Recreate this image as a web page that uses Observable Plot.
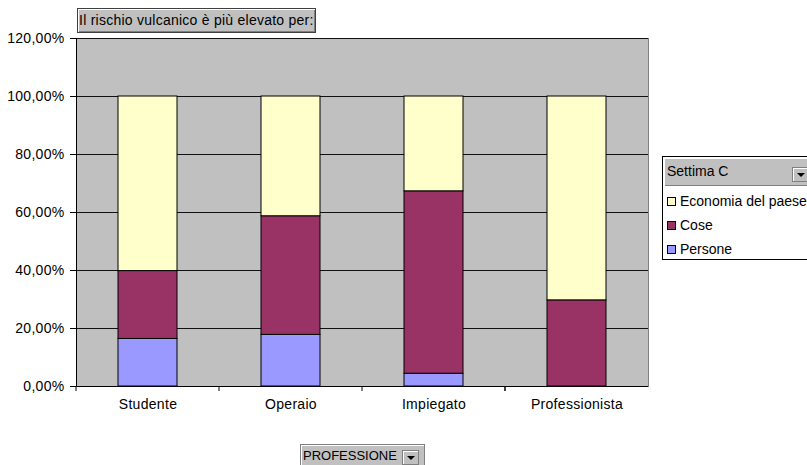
<!DOCTYPE html>
<html>
<head>
<meta charset="utf-8">
<script src="https://cdn.jsdelivr.net/npm/d3@7"></script>
<script src="https://cdn.jsdelivr.net/npm/@observablehq/plot@0.6"></script>
<style>
  html, body { margin: 0; padding: 0; background: #fff; }
  #wrap { position: relative; width: 807px; height: 465px; overflow: hidden; font-family: "Liberation Sans", Arial, sans-serif; }
  #wrap svg { position: absolute; left: 0; top: 0; }
  .title { position: absolute; left: 77px; top: 8px; width: 236px; height: 23px; background: #c0c0c0;
    border: 1px solid #404040; box-shadow: inset 1px 1px #fff, inset -1px -1px #808080; font-size: 14px; letter-spacing: 0.25px; line-height: 23px; padding-left: 1px; box-sizing: content-box; white-space: nowrap; color: #000; }
  .legend { position: absolute; left: 662px; top: 156px; width: 160px; height: 102px; border: 1px solid #000; background: #fff; }
  .legend .head { position: absolute; left: 2px; top: 2px; right: 0; height: 26px; background: #c0c0c0; border-bottom: 1px solid #808080; font-size: 14px; line-height: 24px; padding-left: 2px; }
  .btn { position: absolute; width: 15px; height: 13px; background: #c0c0c0; border: 1px solid #808080; box-shadow: inset 1px 1px #fff; }
  .btn::after { content: ""; position: absolute; left: 4px; top: 5px; border-left: 4px solid transparent; border-right: 4px solid transparent; border-top: 4px solid #000; }
  .item { position: absolute; left: 4px; font-size: 14px; line-height: 14px; white-space: nowrap; }
  .item i { display: inline-block; width: 7px; height: 7px; border: 1px solid #000; margin-right: 4px; vertical-align: 0px; }
  .field { position: absolute; left: 300px; top: 444px; width: 121px; height: 24px; background: #c0c0c0; border: 1px solid #808080; box-shadow: inset 1px 1px #fff; font-size: 13px; line-height: 22px; padding-left: 2px; }
</style>
</head>
<body>
<div id="wrap"></div>
<script>
// ---- data ----
const categories = ["Studente", "Operaio", "Impiegato", "Professionista"];
const seriesNames = ["Persone", "Cose", "Economia del paese"];
const persone = [16.4, 17.8, 4.4, 0];
const cose = [23.4, 40.9, 62.9, 29.7];
const economia = [60.2, 41.3, 32.7, 70.3];
const yTicks = [0, 20, 40, 60, 80, 100, 120];
const colors = ["#9999ff", "#993366", "#ffffcc"];
const titleText = "Il rischio vulcanico è più elevato per:";
const legendTitle = "Settima C";
const fieldName = "PROFESSIONE";

const seriesValues = [persone, cose, economia];
const rows = [];
categories.forEach((c, i) => {
  seriesNames.forEach((s, k) => {
    rows.push({categoria: c, serie: s, valore: seriesValues[k][i]});
  });
});

const W = 807, H = 465;
const mL = 76, mR = 159, mT = 38, mB = 79;
const step = (W - mL - mR) / categories.length;

const itLocale = d3.formatLocale({decimal: ",", thousands: ".", grouping: [3], currency: ["€", ""]});
const fmt = itLocale.format(",.2f");

const edges = categories.map((c) => ({c, d: -step / 2})).concat([{c: categories[categories.length - 1], d: step / 2}]);

const chart = Plot.plot({
  width: W,
  height: H,
  marginLeft: mL,
  marginRight: mR,
  marginTop: mT,
  marginBottom: mB,
  style: {fontFamily: "'Liberation Sans', Arial, sans-serif", fontSize: "14px", letterSpacing: "0.3px", color: "#000", background: "transparent"},
  x: {domain: categories, padding: 0, label: null, tickSize: 0, tickPadding: 14},
  y: {domain: [0, 120], ticks: yTicks, tickFormat: (d) => fmt(d) + "%", label: null, tickSize: 6, tickPadding: 6},
  color: {domain: seriesNames, range: colors},
  marks: [
    Plot.frame({fill: "#c0c0c0", stroke: "#808080"}),
    Plot.ruleY(yTicks.filter((t) => t > 0), {stroke: "#111", strokeWidth: 1}),
    Plot.barY(rows.filter((r) => r.valore > 0), {
      x: "categoria", y: "valore", z: "serie", fill: "serie",
      stroke: "#000", strokeWidth: 1, insetLeft: 42, insetRight: 42
    }),
    Plot.ruleY([0], {stroke: "#000"}),
    Plot.ruleX(edges, {x: "c", dx: (d) => d.d, y1: 0, y2: 0, insetBottom: -5, stroke: "#000"}),
    Plot.axisY({ticks: yTicks, tickFormat: (d) => fmt(d) + "%", tickSize: 6, tickPadding: 6, fontSize: 14}),
    Plot.ruleX([0], {x: () => categories[0], dx: -step / 2, stroke: "#000"}),
    Plot.axisX({tickSize: 0, tickPadding: 13, fontSize: 14})
  ]
});

const wrap = document.getElementById("wrap");
wrap.appendChild(chart);

const title = document.createElement("div");
title.className = "title";
title.textContent = titleText;
wrap.appendChild(title);

const legend = document.createElement("div");
legend.className = "legend";
const head = document.createElement("div");
head.className = "head";
head.textContent = legendTitle;
legend.appendChild(head);
const b1 = document.createElement("div");
b1.className = "btn";
b1.style.left = "129px";
b1.style.top = "10px";
legend.appendChild(b1);
const order = [2, 1, 0];
order.forEach((k, j) => {
  const it = document.createElement("div");
  it.className = "item";
  it.style.top = (37 + j * 24) + "px";
  const sw = document.createElement("i");
  sw.style.background = colors[k];
  it.appendChild(sw);
  it.appendChild(document.createTextNode(seriesNames[k]));
  legend.appendChild(it);
});
wrap.appendChild(legend);

const field = document.createElement("div");
field.className = "field";
field.textContent = fieldName;
const b2 = document.createElement("div");
b2.className = "btn";
b2.style.left = "101px";
b2.style.top = "5px";
field.appendChild(b2);
wrap.appendChild(field);
</script>
</body>
</html>
